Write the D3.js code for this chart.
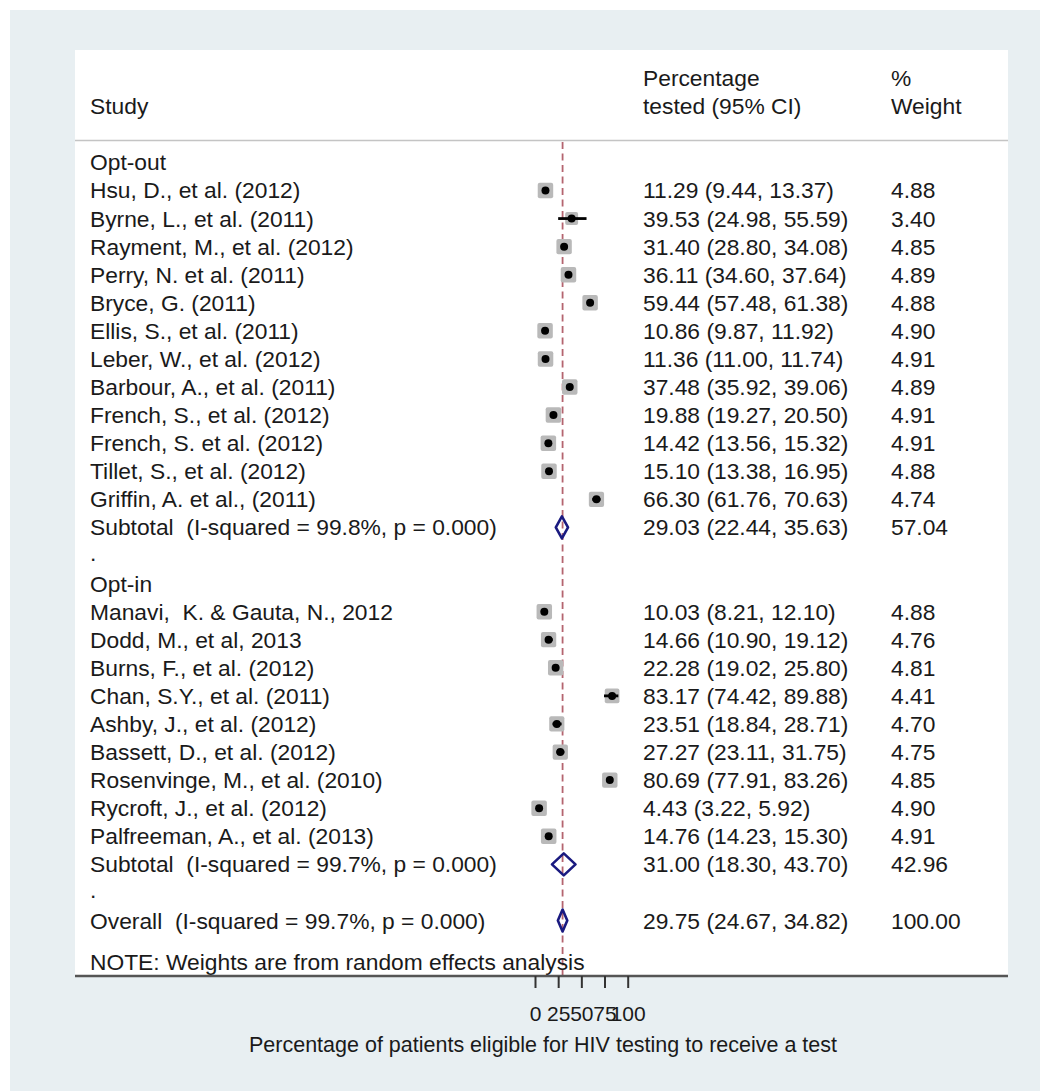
<!DOCTYPE html>
<html>
<head>
<meta charset="utf-8">
<script src="https://cdn.jsdelivr.net/npm/d3@7"></script>
<style>
  html, body { margin: 0; padding: 0; background: #ffffff; }
  svg { display: block; }
  text { font-family: "Liberation Sans", Arial, sans-serif; fill: #1a1a1a; white-space: pre; }
</style>
</head>
<body>
<svg id="chart" width="1042" height="1091"></svg>
<script>
// ---- Study-level data -------------------------------------------------
const optOutStudies = [
  "Hsu, D., et al. (2012)", "Byrne, L., et al. (2011)", "Rayment, M., et al. (2012)",
  "Perry, N. et al. (2011)", "Bryce, G. (2011)", "Ellis, S., et al. (2011)",
  "Leber, W., et al. (2012)", "Barbour, A., et al. (2011)", "French, S., et al. (2012)",
  "French, S. et al. (2012)", "Tillet, S., et al. (2012)", "Griffin, A. et al., (2011)"
];
const optOutEst = [11.29, 39.53, 31.40, 36.11, 59.44, 10.86, 11.36, 37.48, 19.88, 14.42, 15.10, 66.30];
const optOutLo  = [9.44, 24.98, 28.80, 34.60, 57.48, 9.87, 11.00, 35.92, 19.27, 13.56, 13.38, 61.76];
const optOutHi  = [13.37, 55.59, 34.08, 37.64, 61.38, 11.92, 11.74, 39.06, 20.50, 15.32, 16.95, 70.63];
const optOutWeight = [4.88, 3.40, 4.85, 4.89, 4.88, 4.90, 4.91, 4.89, 4.91, 4.91, 4.88, 4.74];

const optInStudies = [
  "Manavi,  K. & Gauta, N., 2012", "Dodd, M., et al, 2013", "Burns, F., et al. (2012)",
  "Chan, S.Y., et al. (2011)", "Ashby, J., et al. (2012)", "Bassett, D., et al. (2012)",
  "Rosenvinge, M., et al. (2010)", "Rycroft, J., et al. (2012)", "Palfreeman, A., et al. (2013)"
];
const optInEst = [10.03, 14.66, 22.28, 83.17, 23.51, 27.27, 80.69, 4.43, 14.76];
const optInLo  = [8.21, 10.90, 19.02, 74.42, 18.84, 23.11, 77.91, 3.22, 14.23];
const optInHi  = [12.10, 19.12, 25.80, 89.88, 28.71, 31.75, 83.26, 5.92, 15.30];
const optInWeight = [4.88, 4.76, 4.81, 4.41, 4.70, 4.75, 4.85, 4.90, 4.91];

// ---- Pooled estimates -------------------------------------------------
const pooledLabels = [
  "Subtotal  (I-squared = 99.8%, p = 0.000)",
  "Subtotal  (I-squared = 99.7%, p = 0.000)",
  "Overall  (I-squared = 99.7%, p = 0.000)"
];
const pooledEst = [29.03, 31.00, 29.75];
const pooledLo  = [22.44, 18.30, 24.67];
const pooledHi  = [35.63, 43.70, 34.82];
const pooledWeight = [57.04, 42.96, 100.00];

const groupNames = ["Opt-out", "Opt-in"];
const xTicks = [0, 25, 50, 75, 100];
const xTitle = "Percentage of patients eligible for HIV testing to receive a test";
const noteText = "NOTE: Weights are from random effects analysis";

// ---- Row table --------------------------------------------------------
const rows = [];
rows.push({ kind: "heading", label: groupNames[0] });
optOutStudies.forEach((s, i) => rows.push({ kind: "study", label: s, est: optOutEst[i], lo: optOutLo[i], hi: optOutHi[i], w: optOutWeight[i] }));
rows.push({ kind: "pooled", label: pooledLabels[0], est: pooledEst[0], lo: pooledLo[0], hi: pooledHi[0], w: pooledWeight[0] });
rows.push({ kind: "spacer", label: "." });
rows.push({ kind: "heading", label: groupNames[1] });
optInStudies.forEach((s, i) => rows.push({ kind: "study", label: s, est: optInEst[i], lo: optInLo[i], hi: optInHi[i], w: optInWeight[i] }));
rows.push({ kind: "pooled", label: pooledLabels[1], est: pooledEst[1], lo: pooledLo[1], hi: pooledHi[1], w: pooledWeight[1] });
rows.push({ kind: "spacer", label: "." });
rows.push({ kind: "pooled", label: pooledLabels[2], est: pooledEst[2], lo: pooledLo[2], hi: pooledHi[2], w: pooledWeight[2] });

// ---- Layout -----------------------------------------------------------
const svg = d3.select("#chart");
const W = 1042, H = 1091;
const plot = { left: 75, right: 1008, top: 50, bottom: 976 };
const colStudy = 90, colCI = 643, colW = 891;
const fs = 22.8;

const x = d3.scaleLinear().domain([0, 100]).range([535, 627.7]);
const y = d3.scaleLinear().domain([0, rows.length - 1]).range([162.4, 920.5]);

// outer graph region and white plot region
svg.append("rect").attr("x", 10).attr("y", 10).attr("width", W - 12).attr("height", H - 10).attr("fill", "#e8eff2");
svg.append("rect").attr("x", plot.left).attr("y", plot.top)
  .attr("width", plot.right - plot.left).attr("height", plot.bottom - plot.top).attr("fill", "#ffffff");

// header
const header = svg.append("g").style("font-size", fs + "px");
header.append("text").attr("x", colStudy).attr("y", 114).text("Study");
header.append("text").attr("x", colCI).attr("y", 86).text("Percentage");
header.append("text").attr("x", colCI).attr("y", 114).text("tested (95% CI)");
header.append("text").attr("x", colW).attr("y", 86).text("%");
header.append("text").attr("x", colW).attr("y", 114).text("Weight");
svg.append("line").attr("x1", plot.left).attr("x2", plot.right).attr("y1", 140.5).attr("y2", 140.5)
  .attr("stroke", "#c4c4c4").attr("stroke-width", 1.6);

// overall-effect reference line
svg.append("line")
  .attr("x1", x(pooledEst[2])).attr("x2", x(pooledEst[2]))
  .attr("y1", 142).attr("y2", plot.bottom)
  .attr("stroke", "#b4646f").attr("stroke-width", 1.8).attr("stroke-dasharray", "7,4.5");

// row labels and statistics columns
const txt = svg.append("g").style("font-size", fs + "px");
rows.forEach((r, i) => {
  const by = y(i) + 8;
  txt.append("text").attr("x", colStudy).attr("y", r.kind === "spacer" ? y(i) + 6 : by).text(r.label);
  if (r.est !== undefined) {
    txt.append("text").attr("x", colCI).attr("y", by)
      .text(`${r.est.toFixed(2)} (${r.lo.toFixed(2)}, ${r.hi.toFixed(2)})`);
    txt.append("text").attr("x", colW).attr("y", by).text(r.w.toFixed(2));
  }
});
txt.append("text").attr("x", colStudy).attr("y", 970).text(noteText);

// study markers: weight-scaled boxes, CI lines, point estimates
const studies = rows.map((r, i) => ({ ...r, i })).filter(r => r.kind === "study");
const boxSide = w => 7 * Math.sqrt(w);
const marks = svg.append("g");
marks.selectAll("rect.box").data(studies).join("rect").attr("class", "box")
  .attr("x", d => x(d.est) - boxSide(d.w) / 2).attr("y", d => y(d.i) - boxSide(d.w) / 2)
  .attr("width", d => boxSide(d.w)).attr("height", d => boxSide(d.w))
  .attr("rx", 2).attr("fill", "#b9b9b9");
marks.selectAll("line.ci").data(studies).join("line").attr("class", "ci")
  .attr("x1", d => x(d.lo)).attr("x2", d => x(d.hi))
  .attr("y1", d => y(d.i)).attr("y2", d => y(d.i))
  .attr("stroke", "#000").attr("stroke-width", 2.8);
marks.selectAll("circle.pt").data(studies).join("circle").attr("class", "pt")
  .attr("cx", d => x(d.est)).attr("cy", d => y(d.i)).attr("r", 4).attr("fill", "#000");

// pooled diamonds
const pooled = rows.map((r, i) => ({ ...r, i })).filter(r => r.kind === "pooled");
marks.selectAll("path.diamond").data(pooled).join("path").attr("class", "diamond")
  .attr("d", d => {
    const cy = y(d.i), h = 11;
    return `M${x(d.lo)},${cy}L${x(d.est)},${cy - h}L${x(d.hi)},${cy}L${x(d.est)},${cy + h}Z`;
  })
  .attr("fill", "none").attr("stroke", "#1a1a80").attr("stroke-width", 2.6).attr("stroke-linejoin", "round");

// x axis
const axis = svg.append("g").attr("transform", `translate(0,${plot.bottom})`);
axis.append("line").attr("x1", plot.left).attr("x2", plot.right).attr("y1", 0).attr("y2", 0)
  .attr("stroke", "#555").attr("stroke-width", 2.5);
const axisG = axis.append("g").call(d3.axisBottom(x).tickValues(xTicks).tickSize(12).tickPadding(18).tickFormat(d3.format("d")));
axisG.select(".domain").remove();
axisG.selectAll(".tick line").attr("stroke", "#333").attr("stroke-width", 2);
axisG.selectAll(".tick text").style("font-size", "21px").style("font-family", "'Liberation Sans', Arial, sans-serif").attr("fill", "#1a1a1a");

svg.append("text").attr("x", 543).attr("y", 1052).attr("text-anchor", "middle")
  .style("font-size", "21.5px").text(xTitle);
</script>
</body>
</html>
